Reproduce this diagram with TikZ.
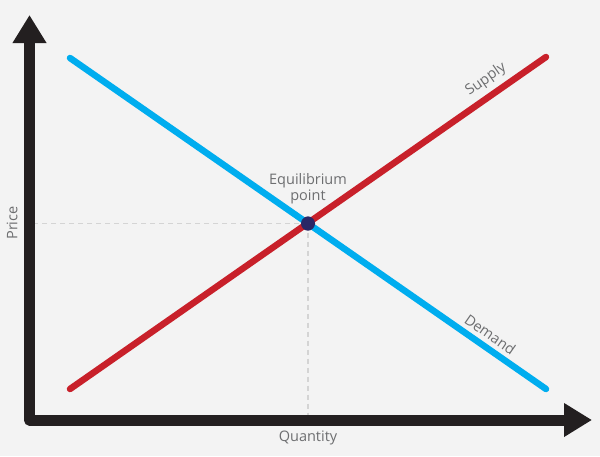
\documentclass[tikz,border=0pt]{standalone}
\usepackage{fontspec}
\setmainfont{Open Sans}
\usetikzlibrary{arrows.meta,positioning}
\definecolor{bgcol}{HTML}{F3F3F3}
\definecolor{axiscol}{HTML}{231F20}
\definecolor{supplycol}{HTML}{C8202A}
\definecolor{demandcol}{HTML}{00ADEF}
\definecolor{eqcol}{HTML}{2A2766}
\definecolor{textcol}{HTML}{6D6E70}
\definecolor{guidecol}{HTML}{D4D4D4}

\begin{document}
\begin{tikzpicture}[x=1pt,y=-1pt,
    axis/.style={draw=axiscol,line width=11pt,line join=round,
        {Triangle[length=28pt,width=32pt]}-{Triangle[length=28pt,width=32pt]}},
    curve/.style={line width=6.5pt,line cap=round},
    guide/.style={draw=guidecol,line width=1.5pt,dash pattern=on 5pt off 4pt},
    eqdot/.style={circle,fill=eqcol,minimum size=14pt,inner sep=0pt},
    lbl/.style={text=textcol,font=\fontsize{14.5}{16}\selectfont}]
    \fill[bgcol] (0,0) rectangle (600,456);
    \useasboundingbox (0,0) rectangle (600,456);

    \coordinate (origin) at (29.5,420);
    \coordinate (ytip) at (29.5,15);
    \coordinate (xtip) at (592,420);
    \coordinate (s0) at (70,389);
    \coordinate (s1) at (546,57);
    \coordinate (d0) at (70,58);
    \coordinate (d1) at (546,389);
    \node[eqdot] (eq) at (308,223.5) {};

    \path[guide] (eq.center) edge (eq.center -| origin)
                 (eq.center) edge (eq.center |- origin);

    \draw[axis] (ytip) |- (xtip);

    \draw[curve,demandcol] (d0) -- (d1)
        node[lbl,pos=0.867,sloped,above=1pt] (demand) {Demand};
    \draw[curve,supplycol] (s0) -- (s1)
        node[lbl,pos=0.893,sloped,above=2pt] (supply) {Supply};
    \node[eqdot] at (eq) {};

    \node[lbl,align=center,above=9pt of eq] (eqlabel) {Equilibrium\\point};
    \node[lbl,rotate=90] (price) at (12,223) {Price};
    \node[lbl] (quantity) at (308,438) {Quantity};
\end{tikzpicture}
\end{document}
